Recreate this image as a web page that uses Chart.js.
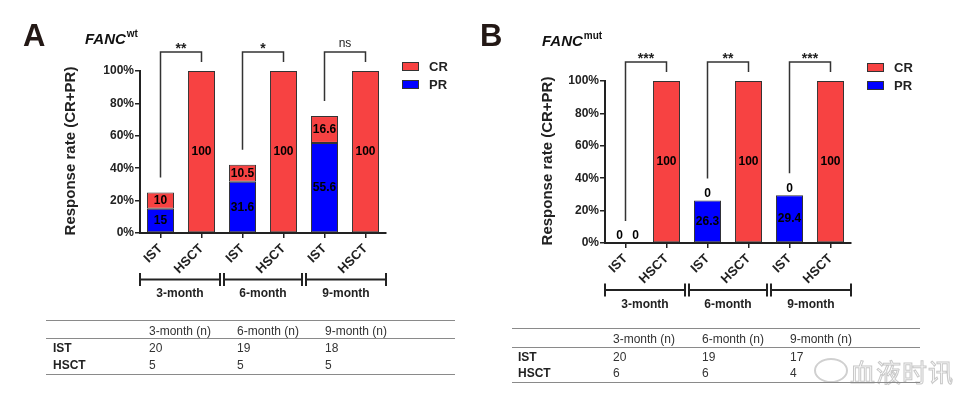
<!DOCTYPE html>
<html>
<head>
<meta charset="utf-8">
<script src="https://cdn.jsdelivr.net/npm/chart.js@4.4.0/dist/chart.umd.min.js"></script>
<style>
  body { margin: 0; background: #fff; width: 961px; height: 394px; overflow: hidden; position: relative; font-family: "Liberation Sans", Arial, sans-serif; }
  .wrap { position: absolute; top: 0; height: 394px; }
  #wrapA { left: 0; width: 480px; }
  #wrapB { left: 480px; width: 481px; }
  .cell { position: absolute; font-size: 12px; color: #333; line-height: 14px; white-space: nowrap; }
  .cell.b { font-weight: bold; color: #222; }
  .rule { position: absolute; height: 0; border-top: 1.5px solid #8a8a8a; }
  #mark { position: absolute; left: 850px; top: 353px; font-family: "Noto Sans CJK SC"; font-size: 25px; color: #fff; -webkit-text-stroke: 1px #c8c8c8; letter-spacing: 1px; }
  #logo { position: absolute; left: 814px; top: 358px; width: 30px; height: 21px; border: 2px solid #d0d0d0; border-radius: 50%; }
</style>
</head>
<body>
<div class="wrap" id="wrapA"><canvas id="chartA" width="480" height="394"></canvas></div>
<div class="wrap" id="wrapB"><canvas id="chartB" width="481" height="394"></canvas></div>
<div id="logo"></div>
<div id="mark">血液时讯</div>
<script>
// ---- data ----
const groups = ["3-month", "6-month", "9-month"];
const treatments = ["IST", "HSCT"];

// FANC wt
const istCR_A = [10, 10.5, 16.6];
const istPR_A = [15, 31.6, 55.6];
const hsctCR_A = [100, 100, 100];
const hsctPR_A = [0, 0, 0];
const sig_A = ["**", "*", "ns"];
const nIST_A = [20, 19, 18];
const nHSCT_A = [5, 5, 5];

// FANC mut
const istCR_B = [0, 0, 0];
const istPR_B = [0, 26.3, 29.4];
const hsctCR_B = [100, 100, 100];
const hsctPR_B = [0, 0, 0];
const sig_B = ["***", "**", "***"];
const nIST_B = [20, 19, 17];
const nHSCT_B = [6, 6, 4];

const yTicks = [0, 20, 40, 60, 80, 100];

const RED = "#F74242";
const BLUE = "#0000FF";
const INK = "#222";
const FONT = '"Liberation Sans", Arial, sans-serif';

// draws brackets, labels, legend, titles on top of the bars
function extras(cfg) {
  return {
    id: "extras",
    afterDraw(chart) {
      const ctx = chart.ctx, x = chart.scales.x, y = chart.scales.y, a = chart.chartArea;
      const pr = chart.data.datasets[0].raw, cr = chart.data.datasets[1].raw;
      ctx.save();

      // panel letter + title
      ctx.fillStyle = "#231815";
      ctx.textAlign = "left";
      ctx.textBaseline = "alphabetic";
      ctx.font = "bold 31px " + FONT;
      ctx.fillText(cfg.letter, cfg.letterX, 46);
      ctx.fillStyle = "#111";
      ctx.font = "italic bold 15px " + FONT;
      ctx.fillText("FANC", cfg.titleX, cfg.titleY);
      const tw = ctx.measureText("FANC").width;
      ctx.font = "bold 10px " + FONT;
      ctx.fillText(cfg.sup, cfg.titleX + tw + 1, cfg.titleY - 7);

      // y title
      ctx.save();
      ctx.translate(cfg.yTitleX, (a.top + a.bottom) / 2 - 1);
      ctx.rotate(-Math.PI / 2);
      ctx.textAlign = "center";
      ctx.textBaseline = "middle";
      ctx.fillStyle = INK;
      ctx.font = "bold 15px " + FONT;
      ctx.fillText("Response rate (CR+PR)", 0, 0);
      ctx.restore();

      // value labels
      ctx.fillStyle = "#000";
      ctx.font = "bold 12px " + FONT;
      ctx.textAlign = "center";
      ctx.textBaseline = "middle";
      for (let i = 0; i < pr.length; i++) {
        const cx = x.getPixelForValue(i);
        const p = pr[i], c = cr[i];
        if (i % 2 === 1) {
          ctx.fillText(String(c), cx, y.getPixelForValue(p + c / 2));
          continue;
        }
        if (p === 0 && c === 0) {
          ctx.fillText("0", cx - 6, a.bottom - 7);
          ctx.fillText("0", cx + 10, a.bottom - 7);
        } else if (c === 0) {
          ctx.fillText(String(p), cx, y.getPixelForValue(p / 2));
          ctx.fillText("0", cx, y.getPixelForValue(p) - 7);
        } else {
          ctx.fillText(String(p), cx, y.getPixelForValue(p / 2));
          ctx.fillText(String(c), cx, y.getPixelForValue(p + c / 2));
        }
      }

      // significance brackets
      ctx.strokeStyle = "#333";
      ctx.lineWidth = 1.5;
      const bTop = a.top - 19;
      for (let g = 0; g < 3; g++) {
        const xl = x.getPixelForValue(2 * g), xr = x.getPixelForValue(2 * g + 1);
        const st = y.getPixelForValue(pr[2 * g] + cr[2 * g]);
        const gap = cr[2 * g] === 0 ? 22 : 15;
        ctx.beginPath();
        ctx.moveTo(xl, st - gap);
        ctx.lineTo(xl, bTop);
        ctx.lineTo(xr, bTop);
        ctx.lineTo(xr, bTop + 10);
        ctx.stroke();
        ctx.fillStyle = "#222";
        ctx.textBaseline = "alphabetic";
        if (cfg.sig[g] === "ns") {
          ctx.font = "12px " + FONT;
          ctx.fillText("ns", (xl + xr) / 2, bTop - 5);
        } else {
          ctx.font = "bold 14px " + FONT;
          ctx.fillText(cfg.sig[g], (xl + xr) / 2, bTop + 1);
        }
      }

      // month group rulers under the axis
      const w = (a.right - a.left) / 6;
      const gy = a.bottom + cfg.groupDy;
      ctx.strokeStyle = INK;
      ctx.lineWidth = 2;
      ctx.fillStyle = INK;
      ctx.font = "bold 12px " + FONT;
      ctx.textAlign = "center";
      for (let g = 0; g < 3; g++) {
        const x0 = a.left + 2 * g * w + (g > 0 ? 2 : 0);
        const x1 = a.left + (2 * g + 2) * w - (g < 2 ? 2 : 0);
        ctx.beginPath();
        ctx.moveTo(x0, gy); ctx.lineTo(x1, gy);
        ctx.moveTo(x0, gy - 6.5); ctx.lineTo(x0, gy + 6.5);
        ctx.moveTo(x1, gy - 6.5); ctx.lineTo(x1, gy + 6.5);
        ctx.stroke();
        ctx.fillText(groups[g], (x0 + x1) / 2, gy + 17.5);
      }

      // legend
      const items = [["CR", RED], ["PR", BLUE]];
      ctx.lineWidth = 1;
      ctx.strokeStyle = "#333";
      ctx.font = "bold 13px " + FONT;
      ctx.textAlign = "left";
      ctx.textBaseline = "middle";
      items.forEach((it, k) => {
        const ly = cfg.legY + k * 18;
        ctx.fillStyle = it[1];
        ctx.fillRect(a.right + 16, ly, 17, 9);
        ctx.strokeRect(a.right + 16.5, ly + 0.5, 16, 8);
        ctx.fillStyle = INK;
        ctx.fillText(it[0], a.right + 43, ly + 5);
      });
      ctx.restore();
    }
  };
}

function makeChart(id, cfg) {
  const labels = [], pr = [], cr = [];
  for (let g = 0; g < groups.length; g++) {
    labels.push(treatments[0], treatments[1]);
    pr.push(cfg.istPR[g], cfg.hsctPR[g]);
    cr.push(cfg.istCR[g], cfg.hsctCR[g]);
  }
  const bar = { borderColor: "#333", borderWidth: 1, borderSkipped: false, categoryPercentage: 1, barPercentage: 0.66 };
  return new Chart(document.getElementById(id), {
    type: "bar",
    data: {
      labels: labels,
      datasets: [
        Object.assign({ label: "PR", data: pr.map(v => v || null), raw: pr, backgroundColor: BLUE }, bar),
        Object.assign({ label: "CR", data: cr.map(v => v || null), raw: cr, backgroundColor: RED }, bar)
      ]
    },
    options: {
      responsive: false,
      animation: false,
      layout: { padding: { left: 0, right: cfg.padR, top: cfg.padT, bottom: 0 } },
      plugins: { legend: { display: false }, tooltip: { enabled: false } },
      scales: {
        x: {
          stacked: true,
          grid: { drawOnChartArea: false, drawTicks: true, tickLength: 5, color: INK, lineWidth: 1.5, offset: false },
          border: { display: true, color: INK, width: 2 },
          ticks: { color: INK, font: { family: FONT, size: 13, weight: "bold" }, minRotation: 45, maxRotation: 45, padding: 3, autoSkip: false },
          afterFit(s) { s.height = cfg.xH; }
        },
        y: {
          stacked: true,
          min: 0,
          max: 100,
          afterBuildTicks(s) { s.ticks = yTicks.map(v => ({ value: v })); },
          grid: { drawOnChartArea: false, tickLength: 5, color: INK, lineWidth: 1.5 },
          border: { display: true, color: INK, width: 2 },
          ticks: { color: INK, font: { family: FONT, size: 12, weight: "bold" }, padding: 1, callback: v => v + "%" },
          afterFit(s) { s.width = cfg.yW; }
        }
      }
    },
    plugins: [extras(cfg)]
  });
}

makeChart("chartA", {
  istCR: istCR_A, istPR: istPR_A, hsctCR: hsctCR_A, hsctPR: hsctPR_A, sig: sig_A,
  yW: 140, padR: 94, padT: 71, xH: 161,
  letter: "A", letterX: 23, sup: "wt", titleX: 85, titleY: 44, yTitleX: 71, legY: 62, groupDy: 46.5
});
makeChart("chartB", {
  istCR: istCR_B, istPR: istPR_B, hsctCR: hsctCR_B, hsctPR: hsctPR_B, sig: sig_B,
  yW: 125, padR: 110, padT: 81, xH: 151,
  letter: "B", letterX: 0, sup: "mut", titleX: 62, titleY: 46, yTitleX: 68, legY: 63, groupDy: 47
});

// sample-size tables
function addTable(x0, x1, rules, rowY, labelX, colX, istN, hsctN) {
  const put = (txt, left, top, bold) => {
    const d = document.createElement("div");
    d.className = "cell" + (bold ? " b" : "");
    d.textContent = txt;
    d.style.left = left + "px";
    d.style.top = (top - 7) + "px";
    document.body.appendChild(d);
  };
  rules.forEach(ry => {
    const r = document.createElement("div");
    r.className = "rule";
    r.style.left = x0 + "px";
    r.style.width = (x1 - x0) + "px";
    r.style.top = ry + "px";
    document.body.appendChild(r);
  });
  groups.forEach((g, k) => put(g + " (n)", colX[k], rowY[0], false));
  put("IST", labelX, rowY[1], true);
  put("HSCT", labelX, rowY[2], true);
  istN.forEach((v, k) => put(String(v), colX[k], rowY[1], false));
  hsctN.forEach((v, k) => put(String(v), colX[k], rowY[2], false));
}
addTable(46, 455, [320, 338, 374], [331, 348, 365], 53, [149, 237, 325], nIST_A, nHSCT_A);
addTable(512, 920, [328, 347, 382], [339, 357, 373], 518, [613, 702, 790], nIST_B, nHSCT_B);
</script>
</body>
</html>
